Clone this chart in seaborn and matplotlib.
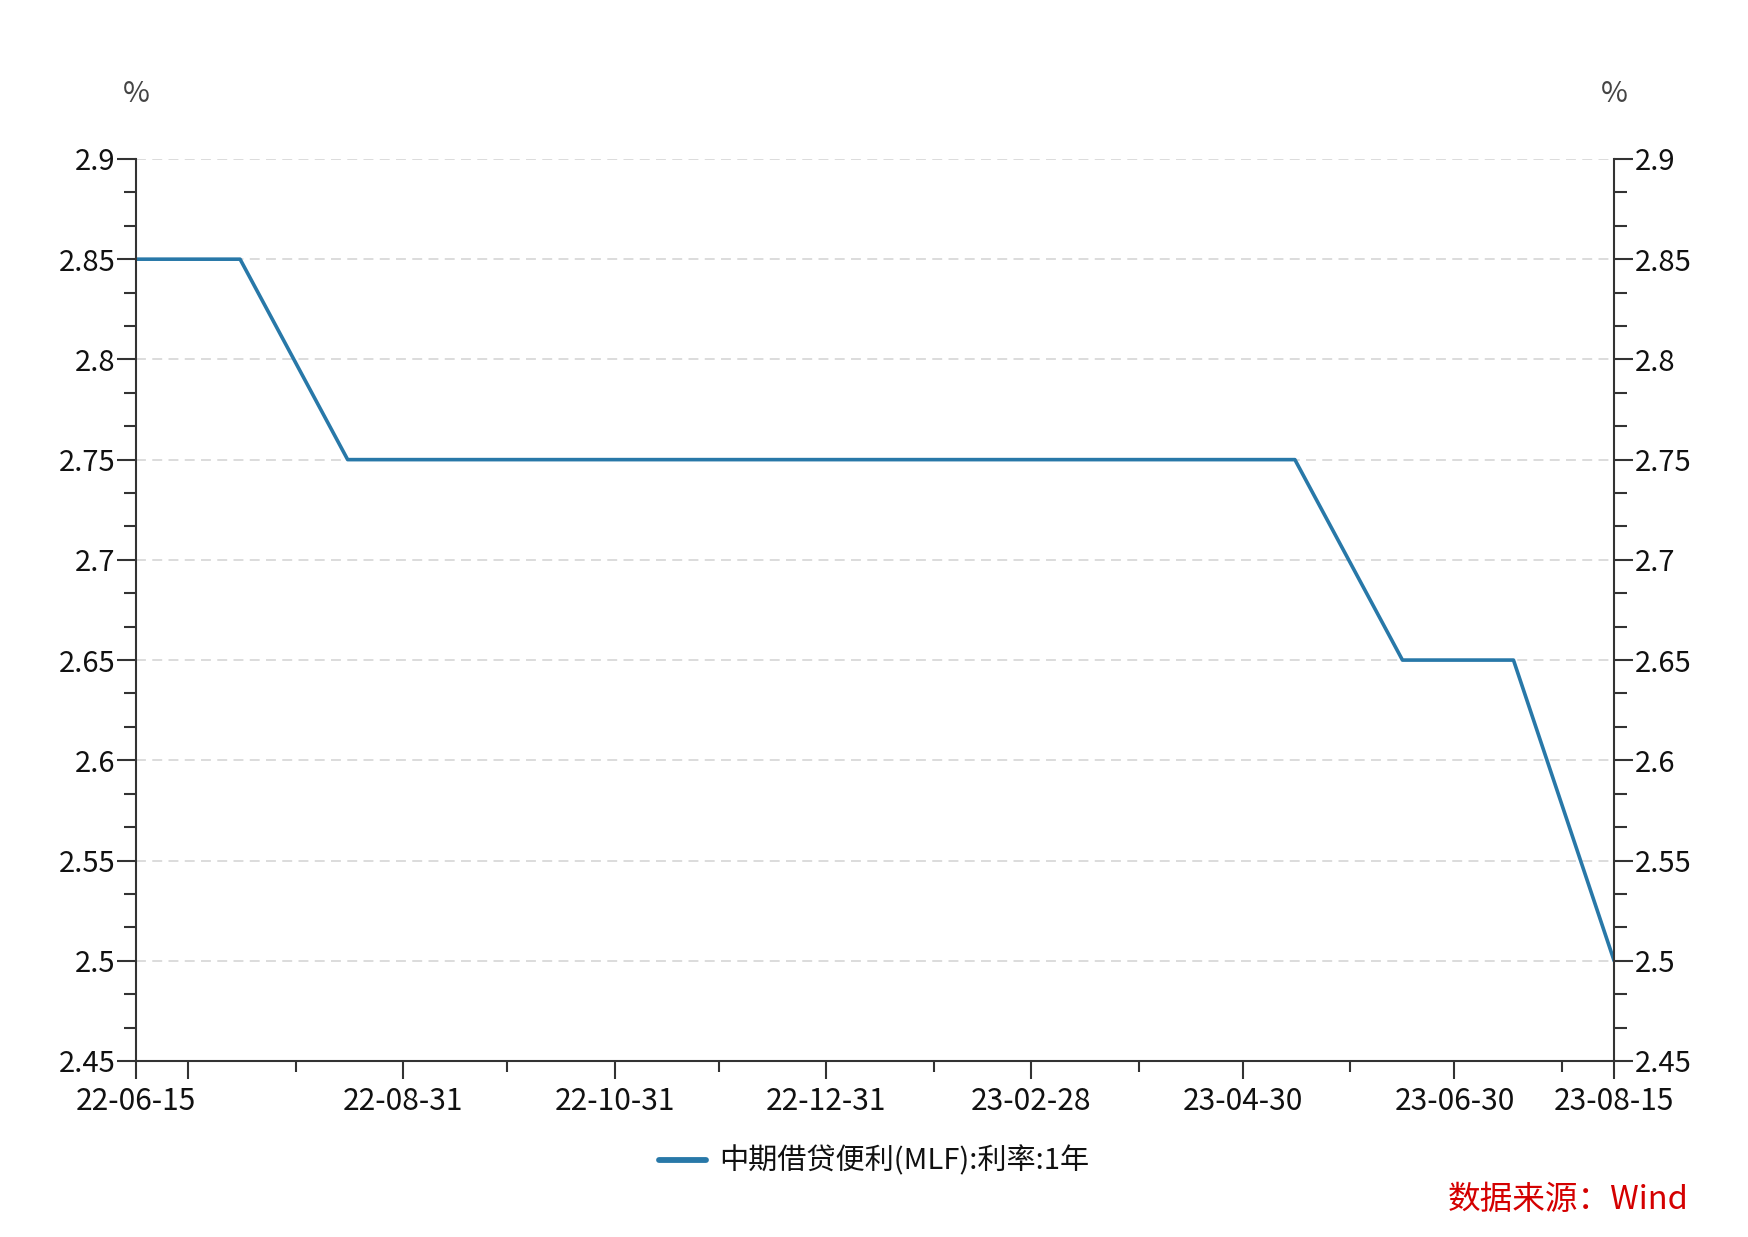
import matplotlib
matplotlib.use("Agg")
import matplotlib.pyplot as plt
import matplotlib.dates as mdates
from matplotlib.ticker import AutoMinorLocator
import seaborn as sns
import pandas as pd

# ---- data ----
dates = ["2022-06-15", "2022-07-15", "2022-08-15", "2022-09-15", "2022-10-17",
         "2022-11-15", "2022-12-15", "2023-01-17", "2023-02-15", "2023-03-15",
         "2023-04-17", "2023-05-15", "2023-06-15", "2023-07-17", "2023-08-15"]
mlf_1y = [2.85, 2.85, 2.75, 2.75, 2.75, 2.75, 2.75, 2.75, 2.75, 2.75,
          2.75, 2.75, 2.65, 2.65, 2.50]
series_name = "中期借贷便利(MLF):利率:1年"

major_tick_dates = ["2022-06-15", "2022-06-30", "2022-08-31", "2022-10-31", "2022-12-31",
                    "2023-02-28", "2023-04-30", "2023-06-30", "2023-08-15"]
major_tick_labels = ["22-06-15", "", "22-08-31", "22-10-31", "22-12-31",
                     "23-02-28", "23-04-30", "23-06-30", "23-08-15"]
minor_tick_dates = ["2022-07-31", "2022-09-30", "2022-11-30", "2023-01-31",
                    "2023-03-31", "2023-05-31", "2023-07-31"]
y_ticks = [2.45, 2.5, 2.55, 2.6, 2.65, 2.7, 2.75, 2.8, 2.85, 2.9]
y_tick_labels = ["2.45", "2.5", "2.55", "2.6", "2.65", "2.7", "2.75", "2.8", "2.85", "2.9"]
unit_label = "%"
source_text = "数据来源：Wind"

# ---- style ----
sns.set_theme(style="white")
plt.rcParams['font.family'] = ['Noto Sans CJK SC', 'DejaVu Sans']
plt.rcParams['axes.unicode_minus'] = False

line_color = "#2878a8"
axis_color = "#333333"

fig = plt.figure(figsize=(17.48, 12.37), dpi=100)
ax = fig.add_axes([0.0778, 0.1423, 0.8456, 0.7292])

df = pd.DataFrame({"date": pd.to_datetime(dates), "value": mlf_1y})
sns.lineplot(data=df, x="date", y="value", ax=ax, color=line_color,
             linewidth=2.6, label=series_name, legend=False)

ax.set_xlim(pd.Timestamp(dates[0]), pd.Timestamp(dates[-1]))
ax.set_ylim(y_ticks[0], y_ticks[-1])
ax.set_xlabel("")
ax.set_ylabel("")

# x ticks
ax.set_xticks([mdates.date2num(pd.Timestamp(d)) for d in major_tick_dates])
ax.set_xticklabels(major_tick_labels)
ax.set_xticks([mdates.date2num(pd.Timestamp(d)) for d in minor_tick_dates], minor=True)

# y ticks (both sides)
ax.set_yticks(y_ticks)
ax.set_yticklabels(y_tick_labels)
ax.yaxis.set_minor_locator(AutoMinorLocator(3))
ax.tick_params(axis="y", which="both", left=True, right=True,
               labelleft=True, labelright=True, direction="out",
               color=axis_color, width=1.5)
ax.tick_params(axis="y", which="major", length=14, pad=1,
               labelsize=21, labelcolor="#111111")
ax.tick_params(axis="y", which="minor", length=9)
ax.tick_params(axis="x", which="both", bottom=True, direction="out",
               color=axis_color, width=1.5)
ax.tick_params(axis="x", which="major", length=13, pad=5,
               labelsize=21.5, labelcolor="#111111")
ax.tick_params(axis="x", which="minor", length=8)

# spines
for side in ["left", "right", "bottom"]:
    ax.spines[side].set_visible(True)
    ax.spines[side].set_color(axis_color)
    ax.spines[side].set_linewidth(1.5)
ax.spines["top"].set_visible(False)

# grid
ax.yaxis.grid(True, which="major", linestyle=(0, (5.5, 3.5)),
              color="#d9d9d9", linewidth=1.3)
ax.xaxis.grid(False)
ax.set_axisbelow(True)

# unit labels
ax.text(0.0, 1.055, unit_label, transform=ax.transAxes, ha="center",
        va="bottom", fontsize=21, color="#444444")
ax.text(1.0, 1.055, unit_label, transform=ax.transAxes, ha="center",
        va="bottom", fontsize=21, color="#444444")

# legend
handles, labels = ax.get_legend_handles_labels()
leg = fig.legend(handles, labels, loc="center", bbox_to_anchor=(0.5, 0.061),
                 frameon=False, fontsize=21, handlelength=1.6,
                 handletextpad=0.45)
for t in leg.get_texts():
    t.set_color("#111111")
for h in leg.legend_handles:
    h.set_linewidth(4.2)

# source
fig.text(0.966, 0.030, source_text, ha="right", va="center",
         fontsize=23.5, color="#d40000")

fig.savefig("out.png", dpi=100)
